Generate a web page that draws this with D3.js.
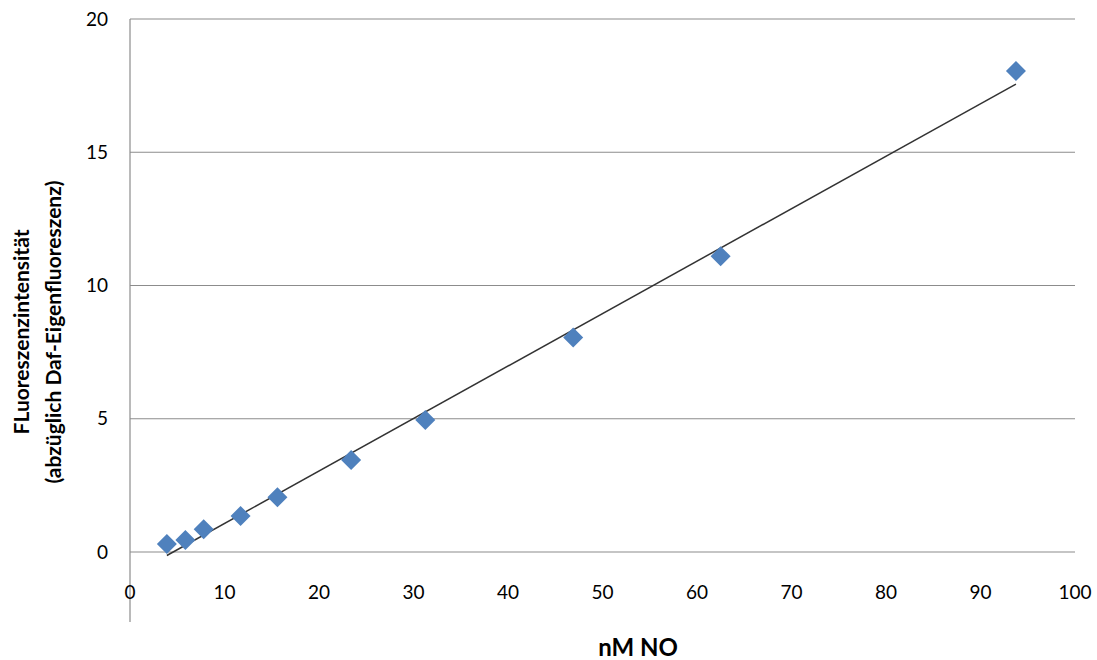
<!DOCTYPE html>
<html><head><meta charset="utf-8">
<script src="https://cdn.jsdelivr.net/npm/d3@7"></script>
<style>body{margin:0;background:#fff;} svg{display:block;}</style>
</head><body>
<svg id="c" width="1097" height="660"></svg>
<script>
const concentrations = [3.9, 5.86, 7.8, 11.7, 15.6, 23.4, 31.25, 46.9, 62.5, 93.75];
const fluorescence = [0.3, 0.45, 0.85, 1.35, 2.05, 3.45, 4.95, 8.05, 11.1, 18.05];
const xTicks = [0,10,20,30,40,50,60,70,80,90,100];
const yTicks = [0,5,10,15,20];
const xTitle = "nM NO";
const yTitle1 = "FLuoreszenzintensität";
const yTitle2 = "(abzüglich Daf-Eigenfluoreszenz)";

const svg = d3.select("#c");
const font = "Lato, 'Open Sans', sans-serif";
const x = d3.scaleLinear().domain([0,100]).range([130,1075]);
const y = d3.scaleLinear().domain([0,20]).range([552,19]);

// gridlines
svg.append("g").selectAll("line").data(yTicks).join("line")
  .attr("x1", x(0)).attr("x2", x(100))
  .attr("y1", d=>y(d)).attr("y2", d=>y(d))
  .attr("stroke", "#8c8c8c").attr("stroke-width", 1.2);
// y axis line (extends below 0)
svg.append("line").attr("x1", x(0)).attr("x2", x(0))
  .attr("y1", y(20)).attr("y2", y(-2.63))
  .attr("stroke", "#8c8c8c").attr("stroke-width", 1.2);

// y tick labels
svg.append("g").selectAll("text").data(yTicks).join("text")
  .attr("x", 108).attr("y", d=>y(d)).attr("dy","0.35em")
  .attr("text-anchor","end").attr("font-family",font).attr("font-size",19).attr("fill","#000")
  .text(d=>d);
// x tick labels
svg.append("g").selectAll("text").data(xTicks).join("text")
  .attr("x", d=>x(d)).attr("y", 592).attr("dy","0.35em")
  .attr("text-anchor","middle").attr("font-family",font).attr("font-size",19).attr("fill","#000")
  .text(d=>d);

// trendline via least squares
const n = concentrations.length;
const mx = d3.mean(concentrations), my = d3.mean(fluorescence);
let sxy=0, sxx=0;
for (let i=0;i<n;i++){ sxy+=(concentrations[i]-mx)*(fluorescence[i]-my); sxx+=(concentrations[i]-mx)**2; }
const slope = sxy/sxx, intercept = my - slope*mx;
const x0 = d3.min(concentrations), x1 = d3.max(concentrations);
svg.append("line")
  .attr("x1", x(x0)).attr("y1", y(slope*x0+intercept))
  .attr("x2", x(x1)).attr("y2", y(slope*x1+intercept))
  .attr("stroke","#333").attr("stroke-width",1.5);

// markers
const pts = concentrations.map((c,i)=>[c, fluorescence[i]]);
svg.append("g").selectAll("path").data(pts).join("path")
  .attr("d", d3.symbol().type(d3.symbolSquare).size(200))
  .attr("transform", d=>`translate(${x(d[0])},${y(d[1])}) rotate(45)`)
  .attr("fill","#4f81bd");

// titles
svg.append("text").attr("x", 638).attr("y", 648).attr("dy","0.35em")
  .attr("text-anchor","middle").attr("font-family",font).attr("font-weight","bold")
  .attr("font-size",24).text(xTitle);
const yt = svg.append("text").attr("transform","translate(22,332) rotate(-90)")
  .attr("text-anchor","middle").attr("font-family",font).attr("font-weight","bold").attr("font-size",21);
yt.append("tspan").attr("x",0).attr("dy","0.35em").text(yTitle1);
yt.append("tspan").attr("x",0).attr("dy","1.5em").text(yTitle2);
</script>
</body></html>
